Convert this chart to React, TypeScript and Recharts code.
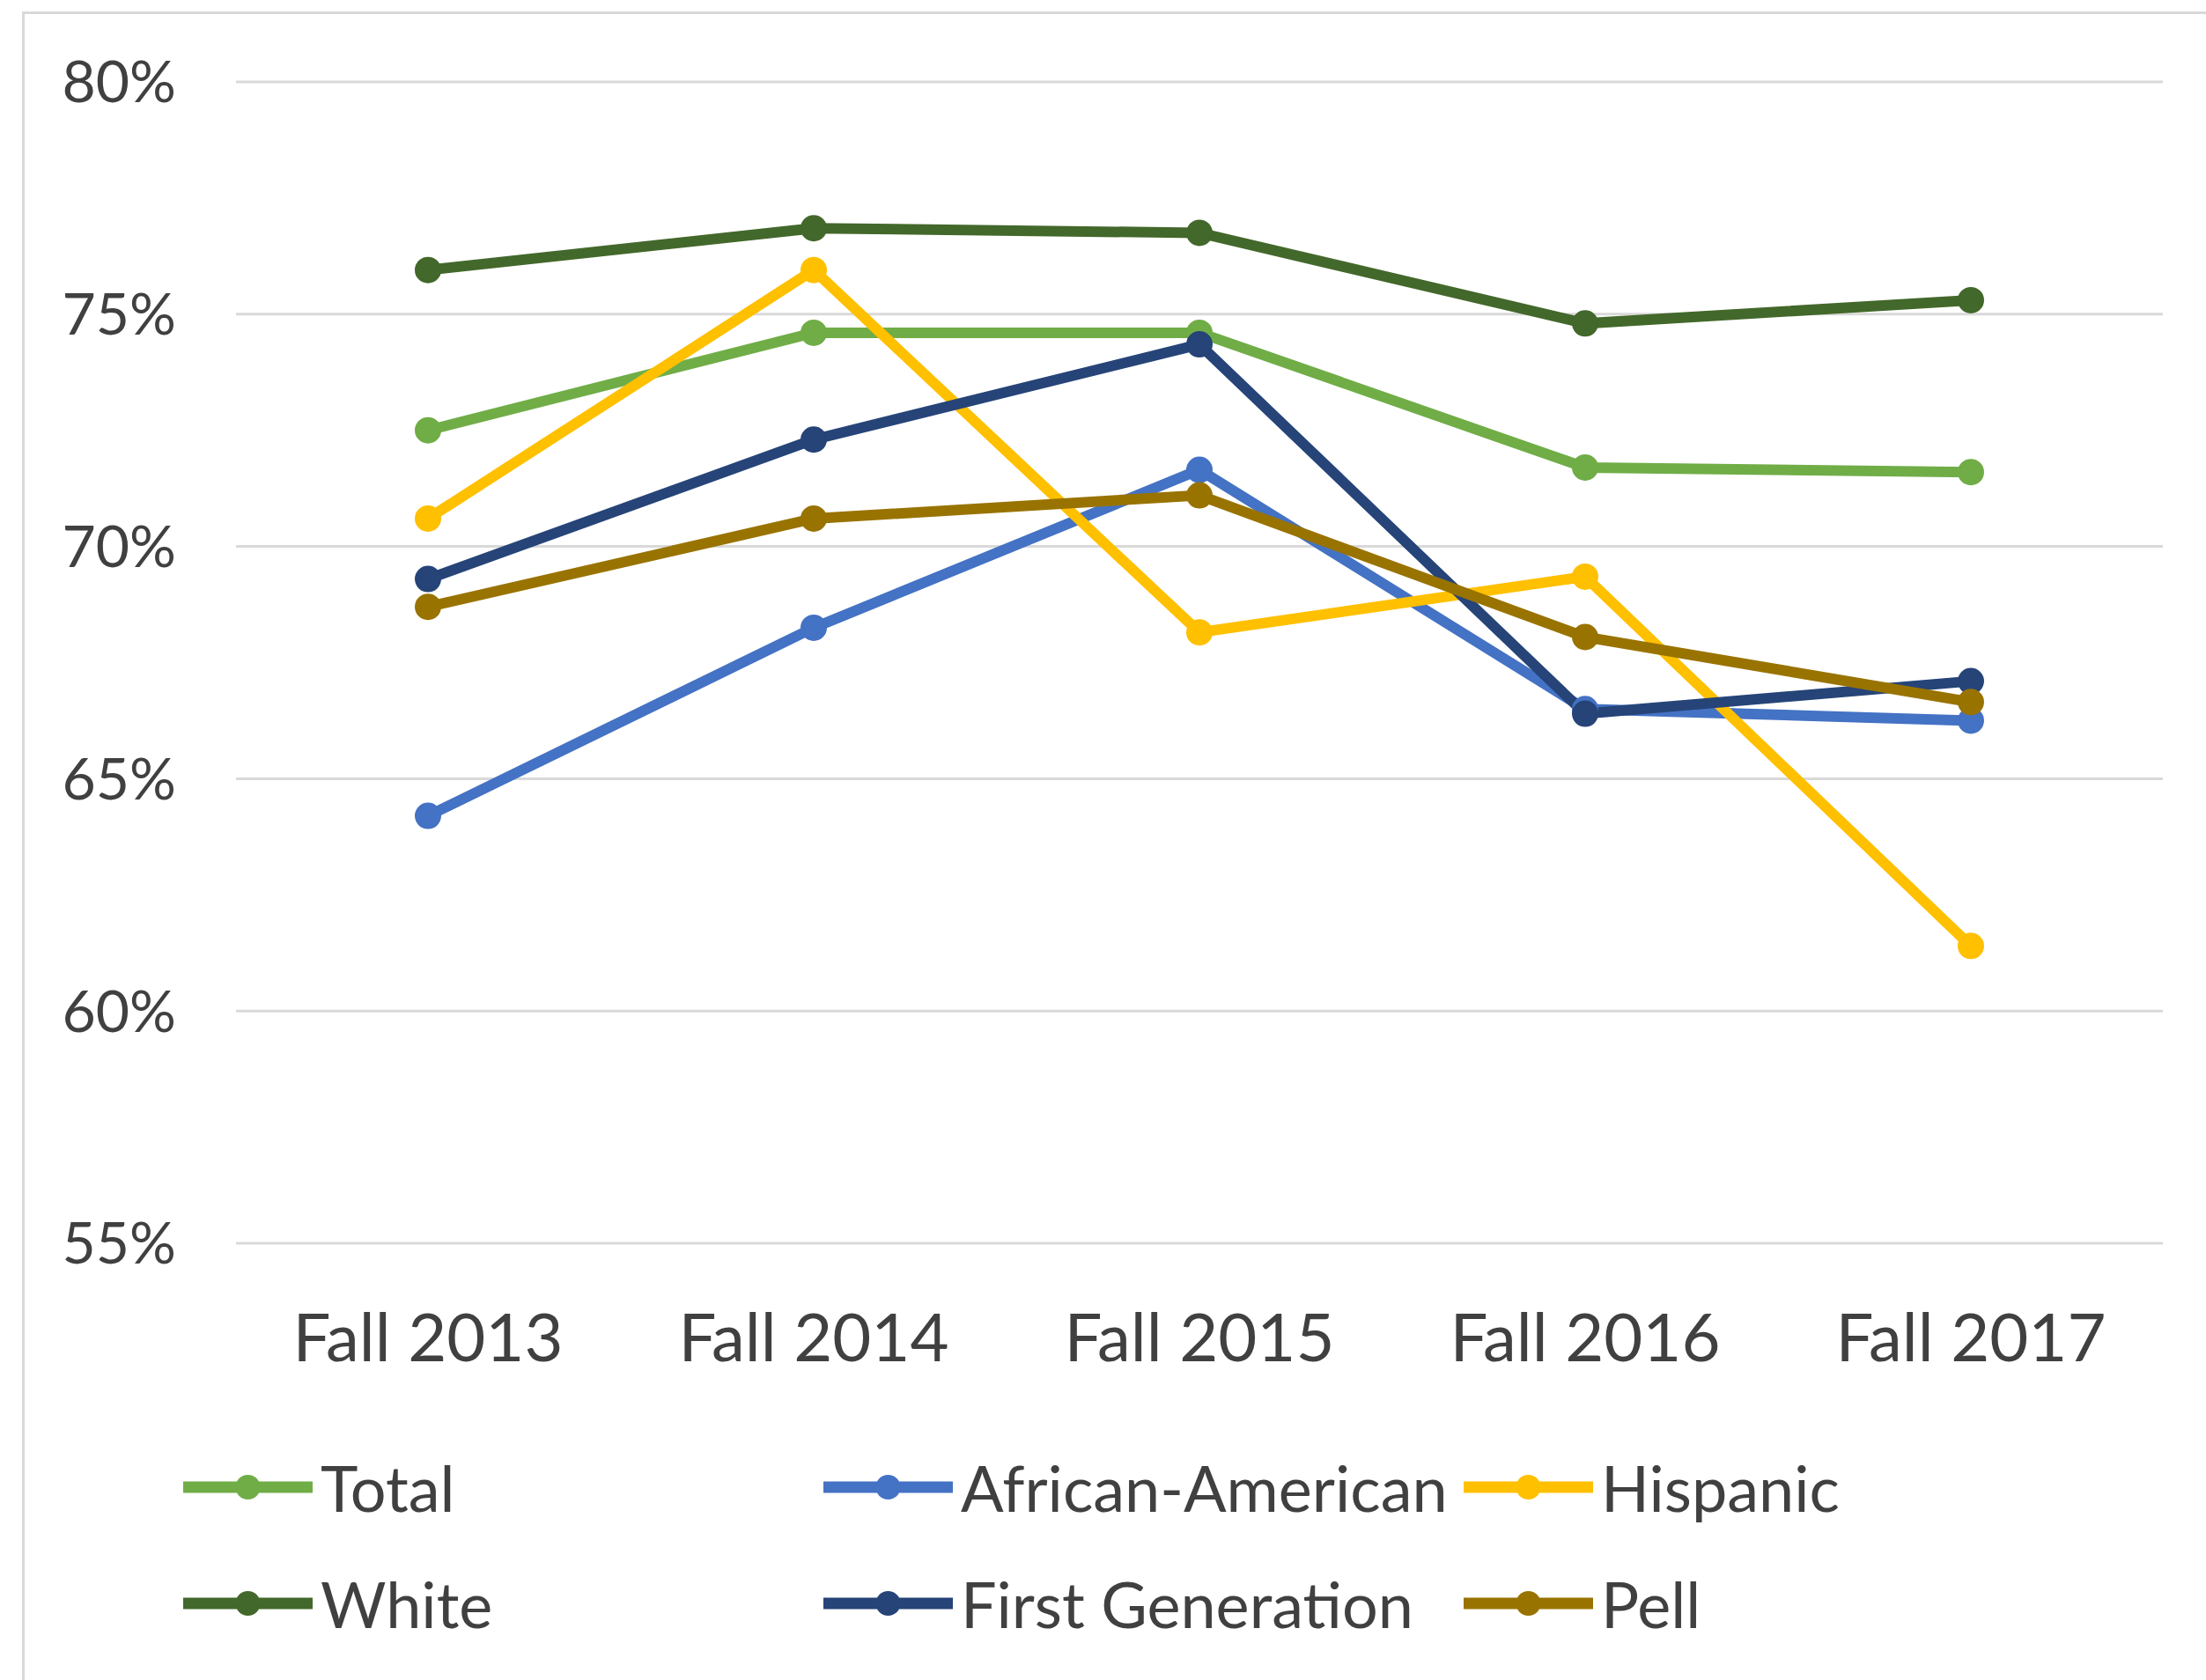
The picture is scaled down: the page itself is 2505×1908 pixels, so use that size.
import React from 'react';
import { LineChart, Line, XAxis, YAxis, CartesianGrid, Legend } from 'recharts';

const categories = ['Fall 2013', 'Fall 2014', 'Fall 2015', 'Fall 2016', 'Fall 2017'];
const total = [72.5, 74.6, 74.6, 71.7, 71.6];
const africanAmerican = [64.2, 68.25, 71.65, 66.5, 66.25];
const hispanic = [70.6, 75.95, 68.15, 69.35, 61.4];
const white = [75.95, 76.85, 76.75, 74.8, 75.3];
const firstGeneration = [69.3, 72.3, 74.35, 66.4, 67.1];
const pell = [68.7, 70.6, 71.1, 68.05, 66.65];
const yTicks = [55, 60, 65, 70, 75, 80];

const seriesDefs = [
  { key: 'Total', values: total, color: '#70AD47' },
  { key: 'African-American', values: africanAmerican, color: '#4472C4' },
  { key: 'Hispanic', values: hispanic, color: '#FFC000' },
  { key: 'White', values: white, color: '#43682B' },
  { key: 'First Generation', values: firstGeneration, color: '#264478' },
  { key: 'Pell', values: pell, color: '#997300' },
];
const seriesOrder = seriesDefs.map((s) => s.key);

const data = categories.map((c, i) => {
  const row: Record<string, any> = { name: c };
  seriesDefs.forEach((s) => {
    row[s.key] = s.values[i];
  });
  return row;
});

const FONT = 'Lato, "Noto Sans", sans-serif';
const TEXT = '#404040';

const colX = [208, 935, 1662];
const rowY = [49, 181];

const LegendContent = (props: any) => {
  const payload = [...(props.payload || [])].sort(
    (a: any, b: any) => seriesOrder.indexOf(a.value) - seriesOrder.indexOf(b.value)
  );
  return (
    <div style={{ position: 'relative', width: 2505, height: 240 }}>
      {payload.map((entry: any, i: number) => {
        const col = i % 3;
        const row = Math.floor(i / 3);
        return (
          <div
            key={entry.value}
            style={{
              position: 'absolute',
              left: colX[col],
              top: rowY[row] - 30,
              height: 60,
              display: 'flex',
              alignItems: 'center',
              whiteSpace: 'nowrap',
            }}
          >
            <svg width={147} height={60} style={{ marginRight: 9, display: 'block' }}>
              <line x1={0} y1={30} x2={147} y2={30} stroke={entry.color} strokeWidth={13} />
              <circle cx={73.5} cy={30} r={14} fill={entry.color} />
            </svg>
            <span style={{ fontFamily: FONT, fontSize: 72, color: TEXT, lineHeight: '60px' }}>
              {entry.value}
            </span>
          </div>
        );
      })}
    </div>
  );
};

export default function App() {
  return (
    <div
      style={{
        position: 'fixed',
        left: 0,
        top: 0,
        width: 2505,
        height: 1908,
        overflow: 'hidden',
        background: '#ffffff',
      }}
    >
      <div
        style={{
          position: 'absolute',
          left: 25,
          top: 13,
          width: 2600,
          height: 2000,
          border: '3px solid #d9d9d9',
          boxSizing: 'border-box',
        }}
      />
      <div style={{ position: 'absolute', left: 0, top: 0 }}>
        <LineChart
          width={2505}
          height={1908}
          data={data}
          margin={{ top: 93, right: 49, bottom: 296, left: 0 }}
        >
          <CartesianGrid vertical={false} stroke="#d9d9d9" strokeWidth={3} />
          <XAxis
            dataKey="name"
            axisLine={false}
            tickLine={false}
            tickSize={0}
            tickMargin={80}
            height={200}
            interval={0}
            padding={{ left: 218, right: 218 }}
            tick={{ fontFamily: FONT, fontSize: 76, fill: TEXT }}
          />
          <YAxis
            domain={[55, 80]}
            ticks={yTicks}
            width={268}
            axisLine={false}
            tickLine={false}
            tickSize={0}
            tickMargin={68}
            interval={0}
            tickFormatter={(v: number) => `${v}%`}
            tick={{ fontFamily: FONT, fontSize: 66, fill: TEXT }}
          />
          <Legend
            layout="horizontal"
            verticalAlign="middle"
            align="center"
            wrapperStyle={{ left: 0, top: 1640, width: 2505, height: 240 }}
            content={<LegendContent />}
          />
          {seriesDefs.map((s) => (
            <Line
              key={s.key}
              type="linear"
              dataKey={s.key}
              stroke={s.color}
              strokeWidth={12}
              dot={{ r: 14, fill: s.color, stroke: s.color, strokeWidth: 2 }}
              activeDot={false}
              isAnimationActive={false}
            />
          ))}
        </LineChart>
      </div>
    </div>
  );
}
